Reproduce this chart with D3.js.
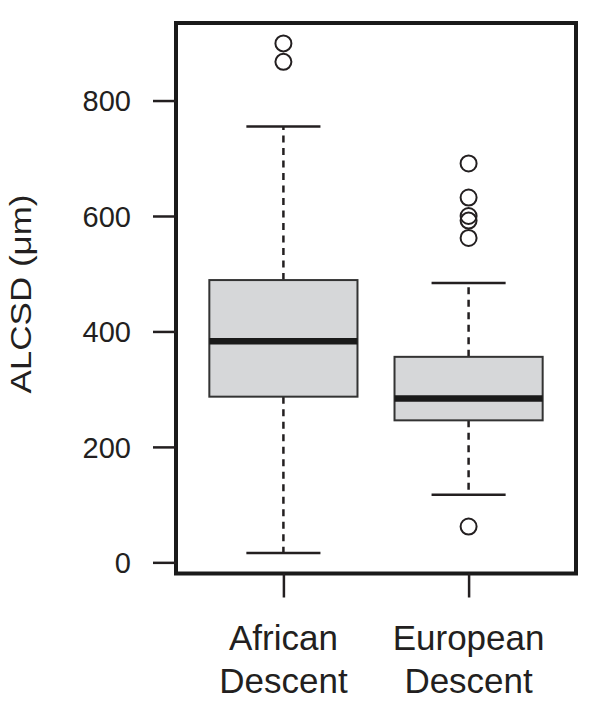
<!DOCTYPE html>
<html>
<head>
<meta charset="utf-8">
<script src="https://cdn.jsdelivr.net/npm/d3@7"></script>
<style>
  html, body { margin: 0; padding: 0; background: #fff; }
  svg { display: block; font-family: "Liberation Sans", Arial, sans-serif; }
</style>
</head>
<body>
<script>
// ---- data ----
const categories = ["African Descent", "European Descent"];
const categoryLines = [["African", "Descent"], ["European", "Descent"]];
const q1 = [287, 246];
const medians = [383, 284];
const q3 = [489, 356];
const whiskerLow = [16, 117];
const whiskerHigh = [755, 484];
const outliersAfrican = [867, 899];
const outliersEuropean = [62, 562, 592, 600, 632, 691];
const yTicks = [0, 200, 400, 600, 800];
const yLabel = "ALCSD (\u03BCm)";

// ---- layout ----
const W = 600, H = 707;
const plotLeft = 176, plotRight = 576, plotTop = 23, plotBottom = 573.5;
const ink = "#231f20";

const svg = d3.select("body").append("svg").attr("width", W).attr("height", H);

const outliers = [outliersAfrican, outliersEuropean];
const allVals = [].concat(whiskerLow, whiskerHigh, outliersAfrican, outliersEuropean);
const yMin = d3.min(allVals), yMax = d3.max(allVals);
const pad = (yMax - yMin) * 0.04;

const y = d3.scaleLinear().domain([yMin - pad, yMax + pad]).range([plotBottom, plotTop]);
const n = categories.length;
const xpad = (n - 1 + 1) * 0.04;
const x = d3.scaleLinear().domain([0.5 - xpad, n + 0.5 + xpad]).range([plotLeft, plotRight]);
const boxHalf = (x(1.4) - x(1));
const capHalf = (x(1.2) - x(1));

// boxes
categories.forEach((c, i) => {
  const cx = x(i + 1);
  const g = svg.append("g");
  // whiskers (dashed)
  g.append("line").attr("x1", cx).attr("x2", cx).attr("y1", y(q3[i])).attr("y2", y(whiskerHigh[i]))
    .attr("stroke", ink).attr("stroke-width", 2.5).attr("stroke-dasharray", "7,5.5");
  g.append("line").attr("x1", cx).attr("x2", cx).attr("y1", y(q1[i])).attr("y2", y(whiskerLow[i]))
    .attr("stroke", ink).attr("stroke-width", 2.5).attr("stroke-dasharray", "7,5.5");
  // caps
  [whiskerLow[i], whiskerHigh[i]].forEach(v => {
    g.append("line").attr("x1", cx - capHalf).attr("x2", cx + capHalf).attr("y1", y(v)).attr("y2", y(v))
      .attr("stroke", ink).attr("stroke-width", 2.5);
  });
  // box
  g.append("rect").attr("x", cx - boxHalf).attr("width", 2 * boxHalf)
    .attr("y", y(q3[i])).attr("height", y(q1[i]) - y(q3[i]))
    .attr("fill", "#d6d7d9").attr("stroke", "#333").attr("stroke-width", 2);
  // median
  g.append("line").attr("x1", cx - boxHalf).attr("x2", cx + boxHalf).attr("y1", y(medians[i])).attr("y2", y(medians[i]))
    .attr("stroke", "#1a1a1a").attr("stroke-width", 6.5);
  // outliers
  g.selectAll("circle.o").data(outliers[i]).enter().append("circle")
    .attr("cx", cx).attr("cy", d => y(d)).attr("r", 8)
    .attr("fill", "none").attr("stroke", ink).attr("stroke-width", 2);
});

// frame
svg.append("rect").attr("x", plotLeft).attr("y", plotTop)
  .attr("width", plotRight - plotLeft).attr("height", plotBottom - plotTop)
  .attr("fill", "none").attr("stroke", "#1a1a1a").attr("stroke-width", 4);

// y axis
const yAxis = d3.axisLeft(y).tickValues(yTicks).tickSize(23).tickPadding(22).tickFormat(d3.format("d"));
const gy = svg.append("g").attr("transform", `translate(${plotLeft},0)`).call(yAxis);
gy.select(".domain").remove();
gy.selectAll(".tick line").attr("stroke", ink).attr("stroke-width", 2.5);
gy.selectAll(".tick text").attr("fill", ink).attr("font-size", 29)
  .attr("font-family", "Liberation Sans, Arial, sans-serif").attr("dy", "0.36em").attr("x", -45);

// x axis
const xAxis = d3.axisBottom(x).tickValues(d3.range(1, n + 1)).tickSize(24).tickFormat("");
const gx = svg.append("g").attr("transform", `translate(0,${plotBottom})`).call(xAxis);
gx.select(".domain").remove();
gx.selectAll(".tick line").attr("stroke", ink).attr("stroke-width", 2.5);

categoryLines.forEach((lines, i) => {
  const t = svg.append("text").attr("text-anchor", "middle").attr("fill", ink)
    .attr("font-size", 35).attr("x", x(i + 1));
  lines.forEach((l, j) => {
    t.append("tspan").attr("x", x(i + 1)).attr("y", 650 + j * 43).text(l);
  });
});

// y label
svg.append("text").attr("transform", "translate(31,294) scale(0.82,1) rotate(-90)")
  .attr("text-anchor", "middle").attr("fill", ink).attr("font-size", 35).text(yLabel);
</script>
</body>
</html>
